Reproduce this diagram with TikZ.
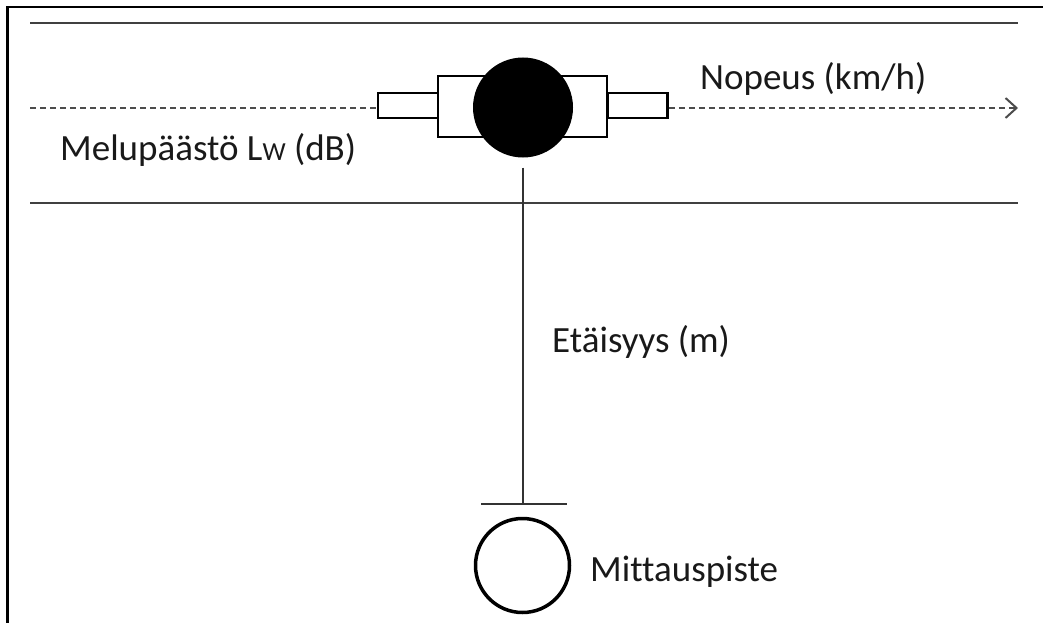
\documentclass[tikz,border=0pt]{standalone}
\usepackage{fontspec}
\setmainfont{Carlito}[Ligatures=NoCommon]
\usetikzlibrary{arrows.meta}
\begin{document}
\begin{tikzpicture}[x=1pt,y=-1pt,
  frame/.style={line width=2.8pt, draw=black},
  road/.style={line width=2.4pt, draw=black!75},
  lane/.style={line width=2pt, draw=black!70, dash pattern=on 6pt off 4pt},
  part/.style={rectangle, draw=black, line width=2.6pt, fill=white, inner sep=0pt},
  body/.style={circle, fill=black, inner sep=0pt, minimum size=100pt},
  spot/.style={circle, draw=black, line width=3.5pt, fill=white, inner sep=0pt, minimum size=94pt},
  distline/.style={line width=2pt, draw=black!80},
  lbl/.style={inner sep=0pt, anchor=base west, text=black!90, font=\fontsize{37}{44}\selectfont}]
\useasboundingbox (0,0) rectangle (1043,623);
\fill[white] (0,0) rectangle (1043,623);

% outer frame (top and left edges)
\draw[frame] (7.5,623) -- (7.5,7) -- (1043,7);

% road edges
\coordinate (rtl) at (30,23);   \coordinate (rtr) at (1018,23);
\coordinate (rbl) at (30,203);  \coordinate (rbr) at (1018,203);
\draw[road] (rtl) -- (rtr);
\draw[road] (rbl) -- (rbr);

% vehicle: axle parts and body
\node[part, minimum width=169pt, minimum height=61pt] (hub) at (522.5,106.5) {};
\node[part, minimum width=60pt, minimum height=25pt] (axL) at (408,105.5) {};
\node[part, minimum width=60pt, minimum height=25pt] (axR) at (637.5,105.5) {};
\node[body] (car) at (523,107.5) {};

% driving lane with direction
\coordinate (laneL) at (30,108);
\coordinate (laneR) at (1018,108);
\draw[lane] (laneL) -- (laneL -| axL.west);
\draw[lane, -{Straight Barb[length=11pt, width=20pt, line width=2pt]}] (axR.east |- laneR) -- (laneR);

% distance to measuring point
\coordinate (tick) at (523,504);
\coordinate (tickL) at (481,504);
\coordinate (tickR) at (567,504);
\draw[distline] ([yshift=-10pt]car.south) -- (tick);
\draw[distline] (tickL) -- (tickR);
\node[spot] (mp) at (522.5,565.5) {};

% labels
\node[lbl] (lw) at (60,160) {Melupäästö L{\fontsize{26}{30}\selectfont W} (dB)};
\node[lbl] (speed) at (700,90) {Nopeus (km/h)};
\node[lbl] (dist) at (552,352) {Etäisyys (m)};
\node[lbl] (mpl) at (590,581) {Mittauspiste};
\end{tikzpicture}
\end{document}
